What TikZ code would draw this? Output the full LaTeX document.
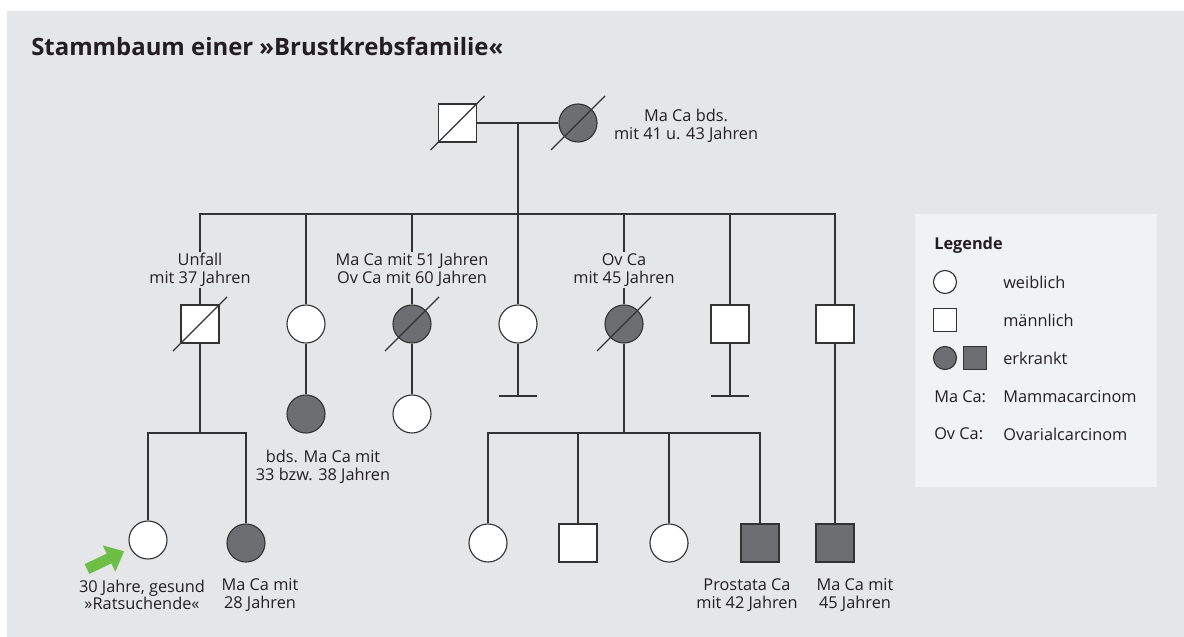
\documentclass[tikz,border=0pt]{standalone}
\usepackage{fontspec}
\setmainfont{Open Sans}
\usetikzlibrary{arrows.meta,positioning,calc}
\definecolor{bggrey}{HTML}{E5E6E8}
\definecolor{legendgrey}{HTML}{F1F2F4}
\definecolor{illgrey}{HTML}{6D6E71}
\definecolor{linegrey}{HTML}{333333}
\definecolor{textgrey}{HTML}{231F20}
\definecolor{askgreen}{HTML}{6DBE45}
\newcommand{\notefont}{\fontsize{11.6}{12.4}\selectfont}
\tikzset{
    female/.style = {draw=linegrey, circle, fill=white, line width=0.8pt,
        minimum size=0.95cm, inner sep=0pt},
    male/.style = {draw=linegrey, rectangle, fill=white, line width=0.8pt,
        minimum size=0.95cm, inner sep=0pt},
    affected/.style = {fill=illgrey},
    small/.style = {minimum size=0.575cm},
    note/.style = {align=center, font=\notefont, text=textgrey, inner sep=1pt},
    keytext/.style = {anchor=west, font=\notefont, text=textgrey, inner sep=0pt},
    line/.style = {draw=linegrey, line width=0.8pt},
    pointer/.style = {draw=askgreen, line width=0.27cm,
        -{Triangle[length=0.42cm,width=0.7cm]}}
}

\begin{document}
\begin{tikzpicture}[x=0.025cm, y=-0.025cm]
    \useasboundingbox (0,0) rectangle (1184,637);
    \fill [bggrey] (7,11) rectangle (1184,637);
    \node [anchor=base west, font=\bfseries\fontsize{17}{20}\selectfont, text=textgrey, inner sep=0pt] (title) at (31,56) {Stammbaum einer »Brustkrebsfamilie«};

    % grandparents
    \node [male] (f0) at (457.5,123) {};
    \node [female, affected] (m0) at (578,123) {};
    \node [note] (n0) at (686,126) {Ma Ca bds.\\mit 41 u. 43 Jahren};
    \coordinate (mar) at (518,123);
    \coordinate (sib2) at (518,214);
    \draw [line] (f0) -- (m0);

    % children
    \node [male] (p1) at (200,324) {};
    \node [female] (p2) at (306,324) {};
    \node [female, affected] (p3) at (412,324) {};
    \node [female] (p4) at (518,324) {};
    \node [female, affected] (p5) at (624,324) {};
    \node [male] (p6) at (730,324) {};
    \node [male] (p7) at (835,324) {};
    \node [note] (n1) at (200,270) {Unfall\\mit 37 Jahren};
    \node [note] (n3) at (412,270) {Ma Ca mit 51 Jahren\\Ov Ca mit 60 Jahren};
    \node [note] (n5) at (624,270) {Ov Ca\\mit 45 Jahren};
    \draw [line] (mar) -- (p4);
    \draw [line] (n1) |- (sib2) -| (p7);
    \draw [line] (n1) -- (p1);
    \draw [line] (n3) -- (n3 |- sib2);
    \draw [line] (n3) -- (p3);
    \draw [line] (n5) -- (n5 |- sib2);
    \draw [line] (n5) -- (p5);
    \foreach \p in {p2,p6}{
        \draw [line] (\p) -- (\p |- sib2);
    }

    % no offspring
    \coordinate (nc4) at (518,396);
    \coordinate (nc6) at (730,396);
    \foreach \c/\p in {nc4/p4,nc6/p6}{
        \draw [line] (\p) -- (\c);
        \draw [line] ($(\c)+(-19,0)$) -- ($(\c)+(19,0)$);
    }

    % grandchildren
    \node [female] (d1) at (148,540) {};
    \node [female, affected] (d2) at (246,543) {};
    \coordinate (sib3a) at (200,433);
    \draw [line] (p1) -- (sib3a);
    \draw [line] (d1) |- (sib3a) -| (d2);
    \node [female, affected] (c2) at (306,414) {};
    \node [female] (c3) at (412,414) {};
    \draw [line] (p2) -- (c2);
    \draw [line] (p3) -- (c3);
    \node [note] (nc) at (323,467) {bds. Ma Ca mit\\33 bzw. 38 Jahren};

    \node [female] (g1) at (488,543) {};
    \node [male] (g2) at (578,543) {};
    \node [female] (g3) at (669,543) {};
    \node [male, affected] (g4) at (760,543) {};
    \node [male, affected] (g5) at (835,543) {};
    \coordinate (sib3b) at (624,433);
    \draw [line] (p5) -- (sib3b);
    \draw [line] (g1) |- (sib3b) -| (g4);
    \foreach \g in {g2,g3}{
        \draw [line] (\g) -- (\g |- sib3b);
    }
    \draw [line] (p7) -- (g5);

    \node [note] (nd1) at (142,595) {30 Jahre, gesund\\»Ratsuchende«};
    \node [note] (nd2) at (260,595) {Ma Ca mit\\28 Jahren};
    \node [note] (ng4) at (747,595) {Prostata Ca\\mit 42 Jahren};
    \node [note] (ng5) at (855,595) {Ma Ca mit\\45 Jahren};

    % deceased
    \foreach \n in {f0,m0,p1,p3,p5}{
        \draw [line] ([shift={(-27,27)}]\n.center) -- ([shift={(27,-27)}]\n.center);
    }

    % proband
    \coordinate (ask) at (87,569);
    \draw [pointer, shorten >=0.17cm] (ask) -- (d1);

    % legend
    \node [fill=legendgrey, minimum width=6.05cm, minimum height=6.825cm, inner sep=0pt] (key) at (1036,350.5) {};
    \node [anchor=west, font=\bfseries\notefont, text=textgrey, inner sep=0pt] (keyhead) at (934,245) {Legende};
    \node [female, small] (kf) at (945,282) {};
    \node [male, small] (km) at (945,320) {};
    \node [female, small, affected] (ka1) at (945,358) {};
    \node [male, small, affected] (ka2) at (975,358) {};
    \node [keytext] (tf) at (1003,282) {weiblich};
    \node [keytext] (tm) at (1003,320) {männlich};
    \node [keytext] (ta) at (1003,358) {erkrankt};
    \node [keytext] (tma) at (934,397) {Ma Ca:};
    \node [keytext] (tov) at (934,434) {Ov Ca:};
    \node [keytext] (tmam) at (1003,397) {Mammacarcinom};
    \node [keytext] (tova) at (1003,434) {Ovarialcarcinom};
\end{tikzpicture}
\end{document}
